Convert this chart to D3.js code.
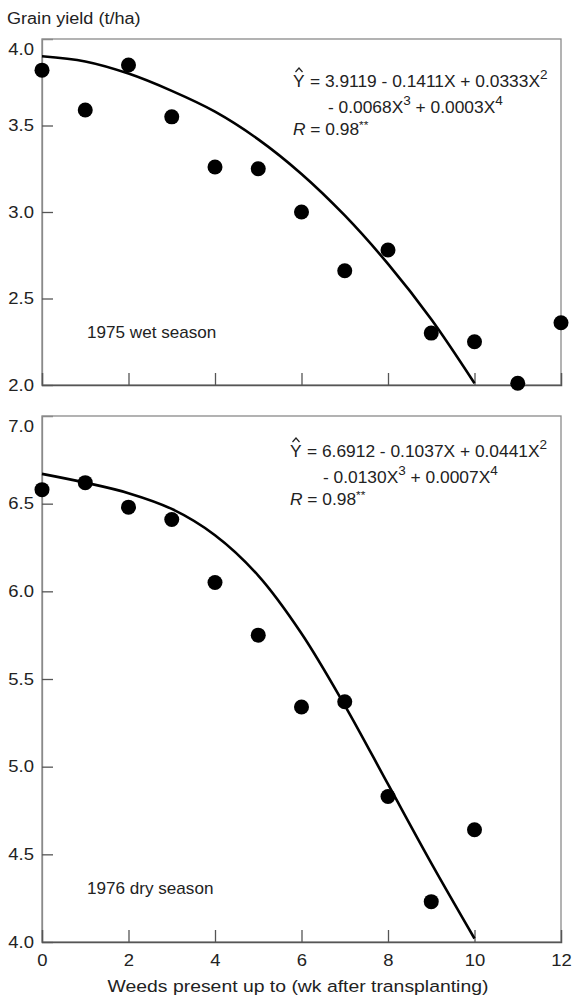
<!DOCTYPE html>
<html>
<head>
<meta charset="utf-8">
<script src="https://cdn.jsdelivr.net/npm/d3@7"></script>
<style>
  body { margin: 0; background: #fff; }
  svg { font-family: "Liberation Sans", Arial, sans-serif; }
</style>
</head>
<body>
<svg id="chart" width="572" height="1003"></svg>
<script>
/* Values */
var wetWeeks = [0, 1, 2, 3, 4, 5, 6, 7, 8, 9, 10, 11, 12];
var wetYield = [3.82, 3.59, 3.85, 3.55, 3.26, 3.25, 3.00, 2.66, 2.78, 2.30, 2.25, 2.01, 2.36];
var dryWeeks = [0, 1, 2, 3, 4, 5, 6, 7, 8, 9, 10];
var dryYield = [6.58, 6.62, 6.48, 6.41, 6.05, 5.75, 5.34, 5.37, 4.83, 4.23, 4.64];

/* Fitted curves, sampled from the drawn lines */
var curveWeeks = [0, 1, 2, 3, 4, 5, 6, 7, 8, 9, 10];
var wetCurve = [3.90, 3.87, 3.80, 3.70, 3.58, 3.42, 3.22, 2.98, 2.70, 2.38, 2.01];
var dryCurve = [6.67, 6.62, 6.56, 6.47, 6.32, 6.09, 5.76, 5.35, 4.90, 4.45, 4.02];

var xTicks = [0, 2, 4, 6, 8, 10, 12];
var wetTicks = [2.0, 2.5, 3.0, 3.5, 4.0];
var dryTicks = [4.0, 4.5, 5.0, 5.5, 6.0, 6.5, 7.0];

var wetEquation = ["= 3.9119 - 0.1411X + 0.0333X", "2", "- 0.0068X", "3", " + 0.0003X", "4"];
var dryEquation = ["= 6.6912 - 0.1037X + 0.0441X", "2", "- 0.0130X", "3", " + 0.0007X", "4"];

var svg = d3.select("#chart");
var xScale = d3.scaleLinear().domain([0, 12]).range([42, 561]);

/* The scanned lettering is wider than Liberation Sans, so stretch it a little */
function Stretch(sel, sx) {
    sel.each(function() {
        var t = d3.select(this);
        var x = +t.attr("x") || 0, y = +t.attr("y") || 0;
        t.attr("x", null).attr("y", null)
         .attr("transform", "translate(" + x + "," + y + ") scale(" + sx + ",1)");
    });
    return sel;
}

function DrawPanel(weeks, yields, curve, ticks, top, bottom, label, labelY, showX) {
    var yScale = d3.scaleLinear().domain([ticks[0], ticks[ticks.length - 1]]).range([bottom, top]);
    var g = svg.append("g");

    // frame
    g.append("rect")
     .attr("x", xScale(0)).attr("y", top)
     .attr("width", xScale(12) - xScale(0)).attr("height", bottom - top)
     .attr("fill", "none").attr("stroke", "#8a8a8a").attr("stroke-width", 1.3);

    // y axis, ticks pointing inward
    var yAxis = g.append("g")
     .attr("transform", "translate(" + xScale(0) + ",0)")
     .call(d3.axisLeft(yScale).tickValues(ticks).tickSize(-11).tickPadding(8)
           .tickFormat(d3.format(".1f")));
    yAxis.select(".domain").attr("stroke", "#8a8a8a").attr("stroke-width", 1.3);
    yAxis.selectAll(".tick line")
     .attr("stroke", "#555").attr("stroke-width", 1.3)
     .attr("display", function(d) { return (d == ticks[0] || d == ticks[ticks.length - 1]) ? "none" : null; });
    yAxis.selectAll(".tick text")
     .attr("font-size", 16.5).attr("fill", "#222")
     .attr("font-family", "Liberation Sans, Arial, sans-serif")
     .attr("dy", function(d) { return d == ticks[ticks.length - 1] ? "0.95em" : "0.32em"; });
    Stretch(yAxis.selectAll(".tick text"), 1.12);

    // x axis at the bottom of the panel
    var xAxis = g.append("g")
     .attr("transform", "translate(0," + bottom + ")")
     .call(d3.axisBottom(xScale).tickValues(xTicks).tickSize(-12).tickPadding(12)
           .tickFormat(function(d) { return showX ? d : ""; }));
    xAxis.select(".domain").attr("stroke", "#555").attr("stroke-width", 1.5);
    xAxis.selectAll(".tick line")
     .attr("stroke", "#555").attr("stroke-width", 1.3)
     .attr("display", function(d) { return (d == 0 || d == 12) ? "none" : null; });
    xAxis.selectAll(".tick text")
     .attr("font-size", 16.5).attr("fill", "#222")
     .attr("font-family", "Liberation Sans, Arial, sans-serif");
    Stretch(xAxis.selectAll(".tick text"), 1.12);

    // fitted curve
    var line = d3.line()
        .x(function(d) { return xScale(d[0]); })
        .y(function(d) { return yScale(d[1]); })
        .curve(d3.curveCatmullRom);
    g.append("path")
     .datum(d3.zip(curveWeeks, curve))
     .attr("d", line)
     .attr("fill", "none").attr("stroke", "#000").attr("stroke-width", 2.6);

    // observed points
    g.selectAll("circle").data(d3.zip(weeks, yields)).enter()
     .append("circle")
     .attr("cx", function(d) { return xScale(d[0]); })
     .attr("cy", function(d) { return yScale(d[1]); })
     .attr("r", 7.5)
     .attr("fill", "#000");

    // season label
    Stretch(g.append("text")
     .attr("x", 87).attr("y", labelY)
     .attr("font-size", 16).attr("fill", "#222")
     .text(label), 1.07);
}

function DrawEquation(eq, x, y, indent) {
    var t = svg.append("g").attr("font-size", 16).attr("fill", "#222");
    var sx = 1.085;

    // Y with a hat drawn above it
    Stretch(t.append("text").attr("x", x).attr("y", y).text("Y"), sx);
    t.append("path")
     .attr("d", "M" + (x + 2.5) + "," + (y - 15) + "L" + (x + 6) + "," + (y - 19) + "L" + (x + 9.5) + "," + (y - 15))
     .attr("fill", "none").attr("stroke", "#222").attr("stroke-width", 1.2);

    var l1 = t.append("text").attr("x", x + 17).attr("y", y);
    l1.append("tspan").text(eq[0]);
    l1.append("tspan").attr("dy", -8).attr("font-size", 12.5).text(eq[1]);
    Stretch(l1, sx);

    var l2 = t.append("text").attr("x", x + indent).attr("y", y + 26);
    l2.append("tspan").text(eq[2]);
    l2.append("tspan").attr("dy", -8).attr("font-size", 12.5).text(eq[3]);
    l2.append("tspan").attr("dy", 8).text(eq[4]);
    l2.append("tspan").attr("dy", -8).attr("font-size", 12.5).text(eq[5]);
    Stretch(l2, sx);

    var l3 = t.append("text").attr("x", x).attr("y", y + 48);
    l3.append("tspan").attr("font-style", "italic").text("R");
    l3.append("tspan").text(" = 0.98");
    l3.append("tspan").attr("dy", -6).attr("font-size", 11).text("**");
    Stretch(l3, sx);
}

// y label
Stretch(svg.append("text")
   .attr("x", 7).attr("y", 24)
   .attr("font-size", 16).attr("fill", "#222")
   .text("Grain yield (t/ha)"), 1.13);

DrawPanel(wetWeeks, wetYield, wetCurve, wetTicks, 39, 385, "1975 wet season", 338, false);
DrawPanel(dryWeeks, dryYield, dryCurve, dryTicks, 416, 942, "1976 dry season", 894, true);

DrawEquation(wetEquation, 293, 87, 35);
DrawEquation(dryEquation, 290, 457, 33);

// x label
Stretch(svg.append("text")
   .attr("x", 298).attr("y", 992)
   .attr("text-anchor", "middle")
   .attr("font-size", 17).attr("fill", "#222")
   .text("Weeds present up to (wk after transplanting)"), 1.14);
</script>
</body>
</html>
